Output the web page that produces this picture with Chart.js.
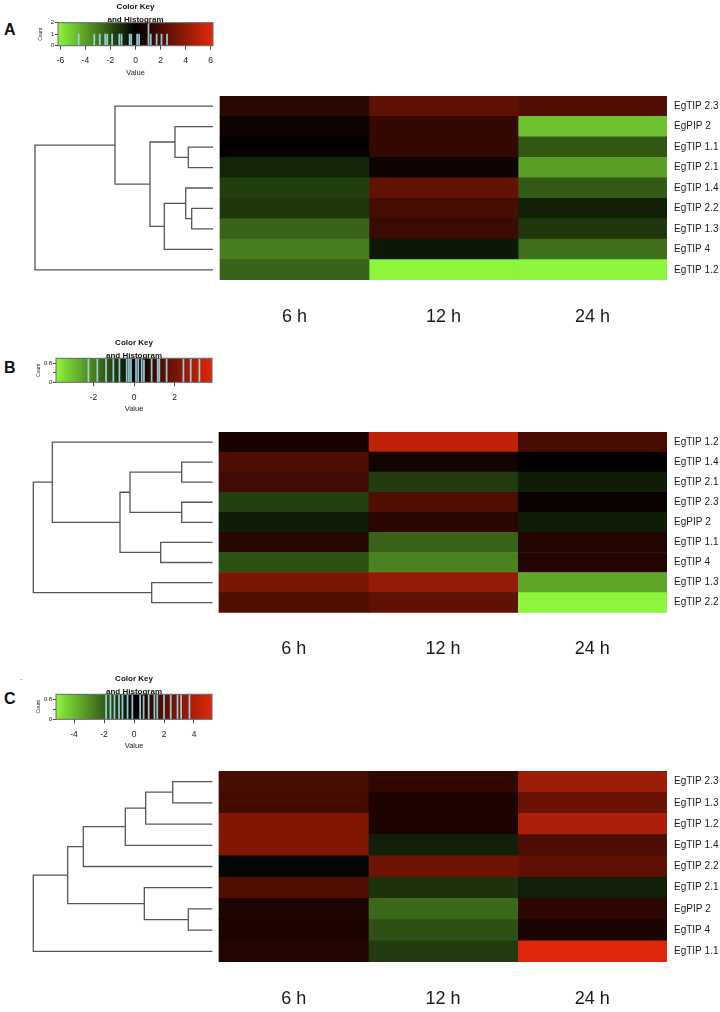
<!DOCTYPE html>
<html>
<head>
<meta charset="utf-8">
<script src="https://cdn.jsdelivr.net/npm/chart.js@4.4.1/dist/chart.umd.min.js"></script>
<style>
  body { margin:0; background:#fff; width:720px; height:1012px; position:relative; overflow:hidden; }
  canvas { position:absolute; }
  .lt { position:absolute; font:bold 16px 'Liberation Sans', Arial, sans-serif; line-height:16px; color:#111; }
</style>
</head>
<body>
<div class="lt" style="left:4px;top:22px">A</div>
<div class="lt" style="left:4px;top:360px">B</div>
<div class="lt" style="left:4px;top:691px">C</div>
<div style="position:absolute;left:20px;top:674px;font:8px 'Liberation Sans';color:#888">-</div>
<script>
// ── data ──
const COL_LABELS = ['6 h', '12 h', '24 h'];

// panel A
const rowsA  = ['EgTIP 2.3','EgPIP 2','EgTIP 1.1','EgTIP 2.1','EgTIP 1.4','EgTIP 2.2','EgTIP 1.3','EgTIP 4','EgTIP 1.2'];
const h6A    = [1.2, 0.4, 0.1, -0.9, -1.6, -1.4, -2.5, -3.2, -2.5];
const h12A   = [2.6, 1.4, 1.4, 0.4, 2.7, 1.9, 1.6, -0.6, -6.2];
const h24A   = [2.2, -4.9, -2.2, -4.0, -2.3, -0.8, -1.4, -2.8, -6.2];
// hclust style merges: -k = leaf k (row order), +m = earlier merge m, then height
const mergeA = [[-3,-4,24.7],[-2,1,38],[-6,-7,21.3],[-5,3,27.3],[4,-8,48.7],[2,5,63],[-1,6,98],[7,-9,178]];
const rangeA = 6.2;
const keyTicksA   = [-6,-4,-2,0,2,4,6];
const countTicksA = [0,1,2];
const countLabA   = [0,1,2];
const histXA = [-4.55,-3.3,-2.86,-2.42,-2.26,-1.87,-1.3,-1.12,-0.47,-0.34,0.13,0.29,1.04,1.22,1.69,2.08,2.52];
const histNA = [1,1,1,1,1,1,1,1,1,1,1,1,2,1,1,1,1];

// panel B
const rowsB  = ['EgTIP 1.2','EgTIP 1.4','EgTIP 2.1','EgTIP 2.3','EgPIP 2','EgTIP 1.1','EgTIP 4','EgTIP 1.3','EgTIP 2.2'];
const h6B    = [0.4, 1.3, 1.1, -1.0, -0.45, 0.7, -1.25, 2.1, 1.35];
const h12B   = [3.25, 0.35, -0.95, 1.35, 0.7, -1.55, -2.05, 2.5, 1.6];
const h24B   = [1.2, 0.05, -0.45, 0.15, -0.45, 0.6, 0.6, -2.6, -3.85];
const mergeB = [[-2,-3,30.8],[-4,-5,30.8],[1,2,82.5],[-6,-7,51.8],[3,4,92.5],[-1,5,160.2],[-8,-9,60.8],[6,7,179.2]];
const rangeB = 3.85;
const keyTicksB   = [-2,0,2];
const countTicksB = [0,0.2,0.4,0.6,0.8];
const countLabB   = [0,0.8];
const histXB = [-2.25,-1.81,-1.38,-1.02,-0.72,-0.36,-0.25,-0.15,0.1,0.21,0.38,0.49,0.87,1.17,1.25,1.61,2.44,2.8,3.23];
const histNB = [1,1,1,1,1,1,1,1,1,1,1,1,1,1,1,1,1,1,1];

// panel C
const rowsC  = ['EgTIP 2.3','EgTIP 1.3','EgTIP 1.2','EgTIP 1.4','EgTIP 2.2','EgTIP 2.1','EgPIP 2','EgTIP 4','EgTIP 1.1'];
const h6C    = [1.65, 1.55, 3.0, 3.0, -0.15, 1.8, 0.7, 0.65, 0.8];
const h12C   = [1.15, 0.65, 0.65, -0.65, 2.55, -1.05, -2.2, -1.7, -1.25];
const h24C   = [3.6, 2.45, 3.95, 1.75, 2.25, -0.65, 1.05, 0.6, 5.1];
const mergeC = [[-1,-2,39.6],[-3,1,66.6],[-4,2,87],[-5,3,129],[-7,-8,24],[-6,5,68],[4,6,144.6],[7,-9,179]];
const rangeC = 5.2;
const keyTicksC   = [-4,-2,0,2,4];
const countTicksC = [0,0.2,0.4,0.6,0.8];
const countLabC   = [0,0.8];
const histXC = [-1.86,-1.57,-1.3,-1.0,-0.77,-0.43,-0.11,0.41,0.64,0.98,1.36,1.55,2.0,2.45,2.9,3.14,3.7];
const histNC = [1,1,1,1,1,1,1,1,1,1,1,1,1,1,1,1,1];

// ── layout ──
const FONT = "'Liberation Sans', Arial, sans-serif";
const GREEN = [140,245,60], RED = [225,40,10];
const LAYOUT = {
  A: { heatTop:93.3, heatBottom:280, heatLeft:220, heatRight:667, leafEnd:213,   key:{left:58, right:213, top:22.7,  bottom:45.7} },
  B: { heatTop:429,  heatBottom:612.7, heatLeft:219, heatRight:667, leafEnd:212.5, key:{left:56, right:212, top:358.3, bottom:382.3} },
  C: { heatTop:768.3, heatBottom:962, heatLeft:219, heatRight:667, leafEnd:212.3, key:{left:56, right:212, top:694.3, bottom:719.3} },
};

const rgb = c => `rgb(${c.map(Math.round).join(',')})`;
function heatColor(v, r) {
  const t = Math.max(-1, Math.min(1, v / r));
  return rgb((t < 0 ? GREEN : RED).map(k => k * Math.abs(t)));
}

function addCanvas(left, top, w, h) {
  const c = document.createElement('canvas');
  c.width = w; c.height = h;
  c.style.left = left + 'px'; c.style.top = top + 'px';
  c.style.width = w + 'px'; c.style.height = h + 'px';
  document.body.appendChild(c);
  return c;
}

function heatChart(L, rows, cols, merges, range) {
  const top = Math.floor(L.heatTop) - 10, xAxisH = 60;
  const h = Math.ceil(L.heatBottom - top + xAxisH);
  const cv = addCanvas(0, top, 720, h);
  const unit = (L.heatRight - L.heatLeft) / 3;
  const toX = px => (px - L.heatLeft) / unit;

  const nodes = [];
  const node = k => k < 0 ? { x: toX(L.leafEnd), y: -k - 1 } : nodes[k - 1];
  const dendro = merges.map(([a, b, ht]) => {
    const A = node(a), B = node(b), x = toX(L.leafEnd - ht);
    nodes.push({ x, y: (A.y + B.y) / 2 });
    return { type:'line', indexAxis:'x', data:[{x:A.x,y:A.y},{x,y:A.y},{x,y:B.y},{x:B.x,y:B.y}],
             borderColor:'#555', borderWidth:1.3, pointRadius:0, fill:false, tension:0, clip:false };
  });
  const heat = cols.map(vals => ({
    type:'bar', data: vals.map((v, i) => ({ x:1, y:i })),
    backgroundColor: vals.map(v => heatColor(v, range)),
    stack:'heat', barPercentage:1, categoryPercentage:1, borderWidth:0,
  }));

  new Chart(cv, {
    type:'bar',
    data:{ datasets:[...heat, ...dendro] },
    options:{
      indexAxis:'y', responsive:false, animation:false,
      plugins:{ legend:{display:false}, tooltip:{enabled:false} },
      layout:{ padding:{ top:L.heatTop - top, left:0, right:0, bottom:h - xAxisH - (L.heatBottom - top) } },
      scales:{
        x:{ type:'linear', stacked:true, min:toX(0), max:3, offset:false,
            afterBuildTicks: s => { s.ticks = [0.5,1.5,2.5].map(value => ({value})); },
            afterFit: s => { s.height = xAxisH; },
            grid:{display:false, drawTicks:false, tickLength:0}, border:{display:false},
            ticks:{ callback:(v,i) => COL_LABELS[i], font:{family:FONT, size:18}, color:'#1a1a1a', padding:26, autoSkip:false, maxRotation:0 } },
        y:{ type:'linear', position:'right', reverse:true, min:-0.5, max:rows.length - 0.5, offset:false,
            afterBuildTicks: s => { s.ticks = rows.map((_, i) => ({value:i})); },
            afterFit: s => { s.width = 720 - L.heatRight; },
            grid:{display:false, drawTicks:false, tickLength:0}, border:{display:false},
            ticks:{ callback:(v,i) => rows[i], font:{family:FONT, size:10}, color:'#1a1a1a', padding:7, autoSkip:false } },
      },
    },
  });
}

const keyDecor = {
  id:'keyDecor',
  beforeDatasetsDraw(chart) {
    const { ctx, chartArea:a, scales:{x} } = chart;
    const g = ctx.createLinearGradient(x.getPixelForValue(x.min), 0, x.getPixelForValue(x.max), 0);
    g.addColorStop(0, rgb(GREEN)); g.addColorStop(0.5, '#000'); g.addColorStop(1, rgb(RED));
    ctx.save(); ctx.fillStyle = g; ctx.fillRect(a.left, a.top, a.width, a.height); ctx.restore();
  },
  afterDraw(chart) {
    const { ctx, chartArea:a } = chart;
    ctx.save();
    ctx.strokeStyle = '#666'; ctx.lineWidth = 1;
    ctx.strokeRect(a.left, a.top, a.width, a.height);
    ctx.fillStyle = '#111'; ctx.font = `bold 8px ${FONT}`;
    ctx.textAlign = 'center'; ctx.textBaseline = 'middle';
    const cx = (a.left + a.right) / 2;
    ctx.fillText('Color Key', cx, a.top - 15.5);
    ctx.fillText('and Histogram', cx, a.top - 3);
    ctx.restore();
  },
};

function keyChart(K, range, ticks, countTicks, countLab, histX, histN) {
  const top = Math.floor(K.top) - 23, xAxisH = 34, yAxisW = 20;
  const h = Math.ceil(K.bottom - top + xAxisH);
  const cv = addCanvas(0, top, 240, h);
  const countMax = Math.max(1, ...histN);
  new Chart(cv, {
    type:'bar',
    data:{ datasets:[{ data: histX.map((x, i) => ({ x, y: histN[i] })), backgroundColor:'rgba(160,220,232,0.9)', barThickness:1.1, borderWidth:0 }] },
    options:{
      responsive:false, animation:false,
      plugins:{ legend:{display:false}, tooltip:{enabled:false} },
      layout:{ padding:{ top:K.top - top, left:K.left - yAxisW, right:240 - K.right, bottom:h - xAxisH - (K.bottom - top) } },
      scales:{
        x:{ type:'linear', min:-range, max:range, offset:false,
            afterBuildTicks: s => { s.ticks = ticks.map(value => ({value})); },
            afterFit: s => { s.height = xAxisH; },
            grid:{ offset:false, drawOnChartArea:false, drawTicks:true, tickLength:4, color:'#444' }, border:{display:false},
            ticks:{ font:{family:FONT, size:8.5}, color:'#222', padding:6.2, autoSkip:false, maxRotation:0 },
            title:{ display:true, text:'Value', font:{family:FONT, size:7.5}, color:'#222', padding:{top:0, bottom:2.5} } },
        y:{ type:'linear', min:0, max:countMax,
            afterBuildTicks: s => { s.ticks = countTicks.map(value => ({value})); },
            afterFit: s => { s.width = yAxisW; },
            grid:{ drawOnChartArea:false, drawTicks:true, tickLength:3, color:'#444' }, border:{display:false},
            ticks:{ font:{family:FONT, size:6}, color:'#222', padding:1, callback: v => countLab.includes(v) ? String(v) : '' },
            title:{ display:true, text:'Count', font:{family:FONT, size:5}, color:'#222', padding:0 } },
      },
    },
    plugins:[keyDecor],
  });
}

keyChart(LAYOUT.A.key, rangeA, keyTicksA, countTicksA, countLabA, histXA, histNA);
heatChart(LAYOUT.A, rowsA, [h6A, h12A, h24A], mergeA, rangeA);
keyChart(LAYOUT.B.key, rangeB, keyTicksB, countTicksB, countLabB, histXB, histNB);
heatChart(LAYOUT.B, rowsB, [h6B, h12B, h24B], mergeB, rangeB);
keyChart(LAYOUT.C.key, rangeC, keyTicksC, countTicksC, countLabC, histXC, histNC);
heatChart(LAYOUT.C, rowsC, [h6C, h12C, h24C], mergeC, rangeC);
</script>
</body>
</html>
